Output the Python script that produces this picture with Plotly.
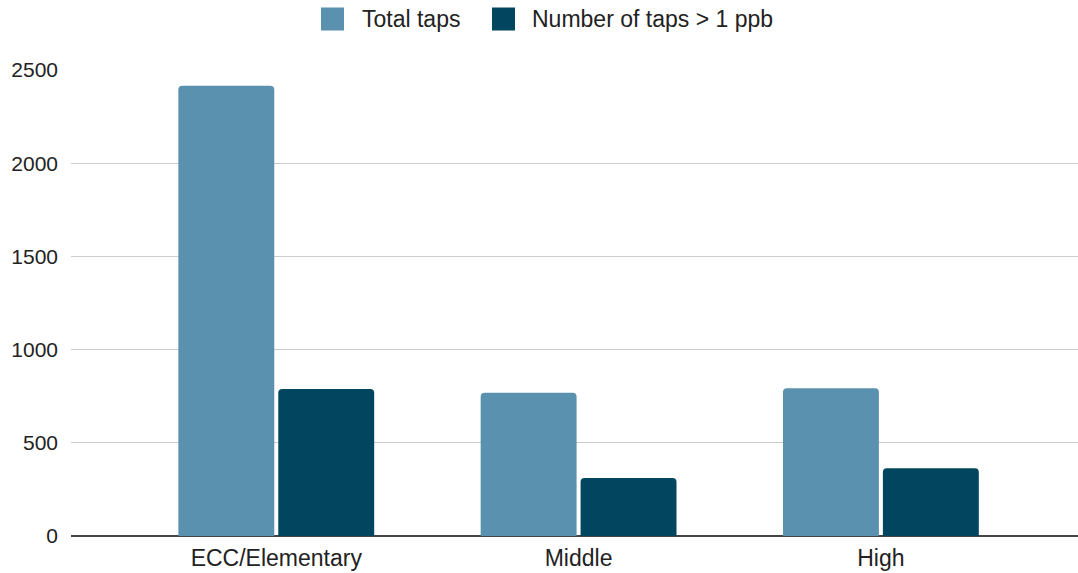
import plotly.graph_objects as go

categories = ["ECC/Elementary", "Middle", "High"]
total_taps = [2415, 769, 792]
taps_over_1ppb = [789, 311, 363]
series_names = ["Total taps", "Number of taps > 1 ppb"]
colors = ["#5991AE", "#02455F"]

# plot area in pixels (for placing the hand-drawn legend)
L, R, T, B = 71, 1078, 70, 536
def px_x(p):
    return (p - L) / (R - L)
def px_y(p):
    return (B - p) / (B - T)

fig = go.Figure()
fig.add_trace(go.Bar(x=categories, y=total_taps, name=series_names[0],
                     marker=dict(color=colors[0], line=dict(width=0), cornerradius=4)))
fig.add_trace(go.Bar(x=categories, y=taps_over_1ppb, name=series_names[1],
                     marker=dict(color=colors[1], line=dict(width=0), cornerradius=4)))

# legend: swatches + labels
legend_items = [(321, 360), (492, 530)]
for (sx, tx), name, col in zip(legend_items, series_names, colors):
    fig.add_shape(type="rect", xref="paper", yref="paper",
                  x0=px_x(sx), x1=px_x(sx + 23), y0=px_y(30.5), y1=px_y(7.5),
                  fillcolor=col, line=dict(width=0), layer="above")
    fig.add_annotation(xref="paper", yref="paper", x=px_x(tx), y=px_y(19),
                       xanchor="left", yanchor="middle", text=name, showarrow=False,
                       font=dict(size=23, color="#222"))

fig.update_layout(
    width=1078, height=573,
    margin=dict(l=L, r=1078 - R, t=T, b=573 - B),
    paper_bgcolor="white", plot_bgcolor="white",
    barmode="group", bargap=0.339, bargroupgap=0.04,
    font=dict(family="Liberation Sans, Arial, sans-serif", size=21, color="#222"),
    showlegend=False,
)
fig.update_xaxes(range=[-0.679, 2.652], showgrid=False, showline=False,
                 ticks="", tickfont=dict(size=23), ticklabelstandoff=6,
                 automargin=False)
fig.update_yaxes(range=[0, 2500], tickvals=[0, 500, 1000, 1500, 2000, 2500],
                 showgrid=True, gridcolor="#cccccc", gridwidth=1,
                 zeroline=True, zerolinecolor="#444444", zerolinewidth=2,
                 showline=False, ticks="", ticklabelstandoff=12,
                 tickfont=dict(size=21), automargin=False)

fig.write_html("out.html")
